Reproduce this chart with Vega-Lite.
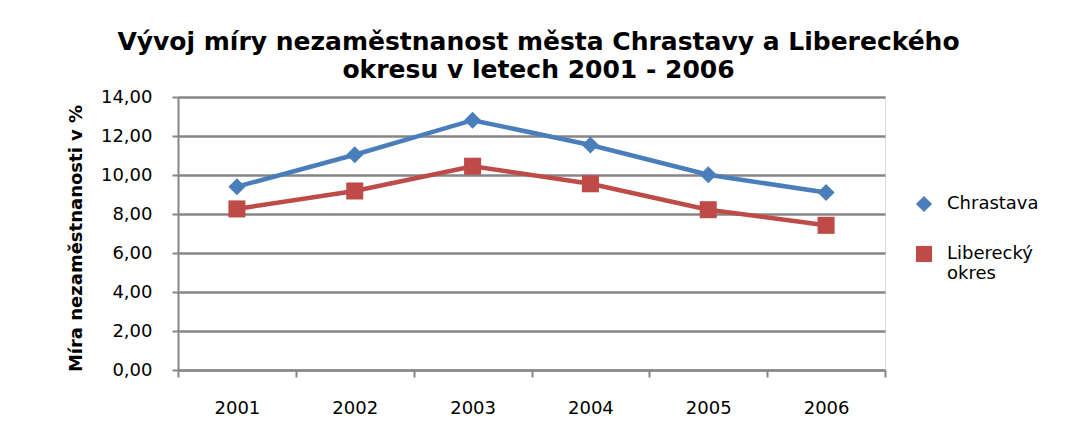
{
  "$schema": "https://vega.github.io/schema/vega-lite/v6.json",
  "autosize": {"type": "none"},
  "padding": {"left": 178, "top": 97, "right": 184, "bottom": 62},
  "width": 707,
  "height": 273,
  "background": "white",
  "title": {
    "text": ["Vývoj míry nezaměstnanost města Chrastavy a Libereckého", "okresu v letech 2001 - 2006"],
    "font": "DejaVu Sans",
    "fontSize": 25,
    "fontWeight": "bold",
    "color": "black",
    "anchor": "middle",
    "lineHeight": 28,
    "offset": 5,
    "dx": 7
  },
  "data": {
    "values": [
      {"rok": "2001", "oblast": "Chrastava", "mira": 9.40},
      {"rok": "2002", "oblast": "Chrastava", "mira": 11.04},
      {"rok": "2003", "oblast": "Chrastava", "mira": 12.81},
      {"rok": "2004", "oblast": "Chrastava", "mira": 11.54},
      {"rok": "2005", "oblast": "Chrastava", "mira": 10.01},
      {"rok": "2006", "oblast": "Chrastava", "mira": 9.10},
      {"rok": "2001", "oblast": "Liberecký okres", "mira": 8.26},
      {"rok": "2002", "oblast": "Liberecký okres", "mira": 9.18},
      {"rok": "2003", "oblast": "Liberecký okres", "mira": 10.45},
      {"rok": "2004", "oblast": "Liberecký okres", "mira": 9.55},
      {"rok": "2005", "oblast": "Liberecký okres", "mira": 8.22},
      {"rok": "2006", "oblast": "Liberecký okres", "mira": 7.42}
    ]
  },
  "encoding": {
    "x": {
      "field": "rok", "type": "ordinal",
      "scale": {"type": "band", "paddingInner": 0, "paddingOuter": 0},
      "axis": {
        "title": null, "labelAngle": 0, "tickBand": "extent",
        "grid": false, "domainColor": "#868686", "domainWidth": 2,
        "tickColor": "#868686", "tickWidth": 2, "tickSize": 7,
        "labelPadding": 22, "labelFont": "DejaVu Sans", "labelFontSize": 18, "labelColor": "black"
      }
    },
    "y": {
      "field": "mira", "type": "quantitative",
      "scale": {"domain": [0, 14], "nice": false},
      "axis": {
        "title": "Míra nezaměstnanosti  v %",
        "titleFont": "DejaVu Sans", "titleFontSize": 18, "titleFontWeight": "bold", "titleColor": "black",
        "titlePadding": 15, "titleY": 141,
        "values": [0, 2, 4, 6, 8, 10, 12, 14],
        "labelExpr": "replace(format(datum.value, '.2f'), '.', ',')",
        "labelFont": "DejaVu Sans", "labelFontSize": 18, "labelColor": "black", "labelPadding": 20,
        "domainColor": "#868686", "domainWidth": 2,
        "tickColor": "#868686", "tickWidth": 2, "tickSize": 6,
        "grid": true, "gridColor": "#868686", "gridWidth": 2.5
      }
    }
  },
  "layer": [
    {
      "mark": {"type": "line", "strokeWidth": 4.5},
      "encoding": {
        "color": {"field": "oblast", "type": "nominal",
          "scale": {"domain": ["Chrastava", "Liberecký okres"], "range": ["#4A7EBB", "#BE4B48"]}}
      }
    },
    {
      "mark": {"type": "point", "filled": true, "opacity": 1, "size": 290},
      "encoding": {
        "color": {"field": "oblast", "type": "nominal",
          "scale": {"domain": ["Chrastava", "Liberecký okres"], "range": ["#4A7EBB", "#BE4B48"]},
          "legend": {
            "title": null, "orient": "none", "legendX": 737, "legendY": 98, "padding": 0,
            "symbolSize": 260, "symbolStrokeWidth": 0, "rowPadding": 32, "labelOffset": 14,
            "labelFont": "DejaVu Sans", "labelFontSize": 18, "labelColor": "black",
            "labelExpr": "datum.label == 'Liberecký okres' ? ['Liberecký', 'okres'] : datum.label",
            "encode": {
              "labels": {"lineHeight": {"value": 25}}
            }
          }
        },
        "shape": {"field": "oblast", "type": "nominal", "legend": null,
          "scale": {"domain": ["Chrastava", "Liberecký okres"], "range": ["diamond", "square"]}}
      }
    }
  ]
}
